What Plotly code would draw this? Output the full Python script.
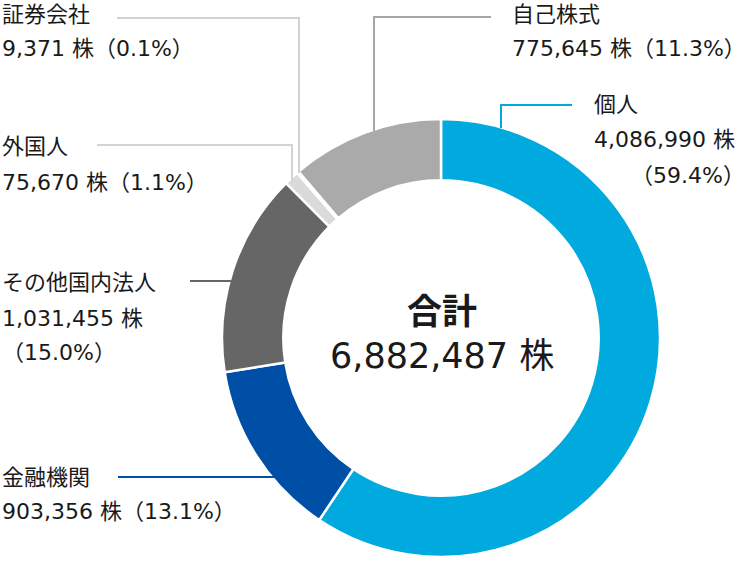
import plotly.graph_objects as go

W, H = 748, 561

labels = ["個人", "金融機関", "その他国内法人", "外国人", "証券会社", "自己株式"]
shares = [4086990, 903356, 1031455, 75670, 9371, 775645]
percents = ["59.4", "13.1", "15.0", "1.1", "0.1", "11.3"]
colors = ["#00a9de", "#004fa7", "#666666", "#dadada", "#f0f0f0", "#aaaaaa"]
line_colors = ["#00a9de", "#004fa7", "#666666", "#d3d3d3", "#d3d3d3", "#a6a6a6"]

total_label = "合計"

FONT = "DejaVu Sans, Noto Sans CJK JP, sans-serif"


def px_x(x):
    return x / W


def px_y(y):
    return 1 - y / H


fig = go.Figure(go.Pie(
    labels=labels,
    values=shares,
    sort=False,
    direction="clockwise",
    rotation=0,
    hole=0.72,
    marker=dict(colors=colors, line=dict(color="white", width=2.5)),
    textinfo="none",
    hoverinfo="skip",
    domain=dict(x=[px_x(222), px_x(660)], y=[px_y(557), px_y(119)]),
))

# leader lines (pixel positions in the page)
leaders = {
    "個人": [(501, 128), (501, 105), (572, 105)],
    "金融機関": [(118, 477), (275, 477)],
    "その他国内法人": [(190, 281), (231, 281)],
    "外国人": [(97, 145), (292, 145), (292, 181)],
    "証券会社": [(117, 18), (299, 18), (299, 173)],
    "自己株式": [(374, 131), (374, 17), (491, 17)],
}
for name, pts in leaders.items():
    c = line_colors[labels.index(name)]
    path = "M " + " L ".join(f"{px_x(x)},{px_y(y)}" for x, y in pts)
    fig.add_shape(type="path", path=path, xref="paper", yref="paper",
                  line=dict(color=c, width=2))

# label text blocks: (x, [line y positions]) and how the lines break
blocks = {
    "個人": (592, [105, 140, 175], "split"),
    "金融機関": (0, [477, 512], "one"),
    "その他国内法人": (0, [282, 318, 352], "split"),
    "外国人": (0, [147, 182], "one"),
    "証券会社": (0, [15, 48], "one"),
    "自己株式": (510, [15, 48], "one"),
}


def note(text, x, y, size=22, anchor="left"):
    fig.add_annotation(text=text, x=px_x(x), y=px_y(y), xref="paper", yref="paper",
                       xanchor=anchor, yanchor="middle", showarrow=False,
                       font=dict(family=FONT, size=size, color="#1a1a1a"))


for i, name in enumerate(labels):
    x, ys, mode = blocks[name]
    note(name, x, ys[0])
    if mode == "one":
        note(f"{shares[i]:,} 株（{percents[i]}%）", x, ys[1])
    else:
        note(f"{shares[i]:,} 株", x, ys[1])
        if name == "個人":
            note(f"（{percents[i]}%）", 747, ys[2], anchor="right")
        else:
            note(f"（{percents[i]}%）", x, ys[2])

note(f"<b>{total_label}</b>", 442, 312, size=35, anchor="center")
note(f"{sum(shares):,} 株", 442, 356, size=35, anchor="center")

fig.update_layout(
    width=W, height=H,
    margin=dict(l=0, r=0, t=0, b=0),
    showlegend=False,
    paper_bgcolor="white",
    plot_bgcolor="white",
)

fig.write_html("out.html", config={"displayModeBar": False},
               post_script="document.body.style.margin='0px';")
